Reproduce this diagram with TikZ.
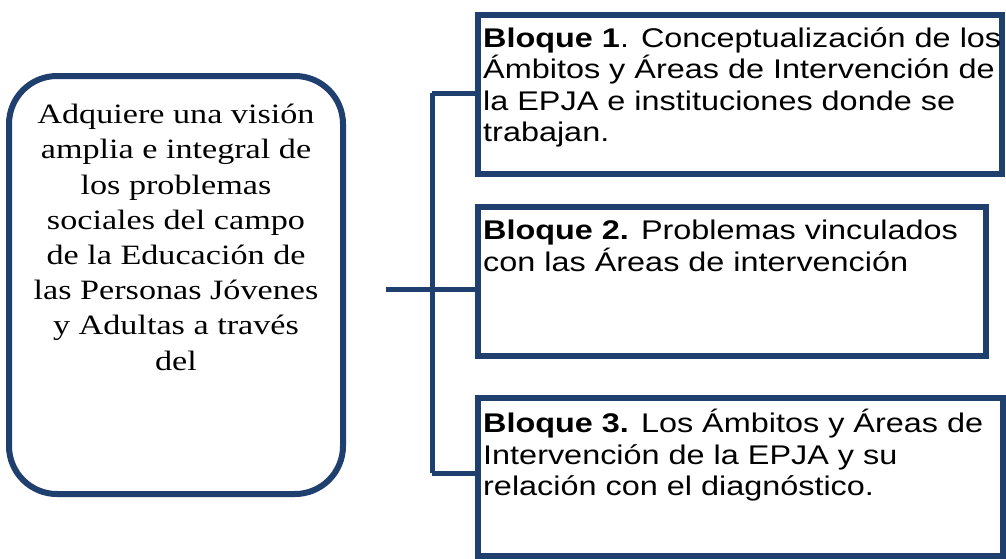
\documentclass[tikz,border=0pt]{standalone}
\usepackage{fontspec}
\setmainfont[FakeStretch=1.2]{Liberation Sans}
\newfontfamily\serifface[FakeStretch=1.22]{Liberation Serif}
\definecolor{navy}{RGB}{31,63,111}
\begin{document}
\begin{tikzpicture}[x=1pt,y=-1pt,
  roundbox/.style={draw=navy,line width=6pt,rounded corners=48pt,fill=white},
  blockbox/.style={draw=navy,line width=6pt,fill=white},
  link/.style={draw=navy,line width=5pt},
  maintxt/.style={align=center,font=\serifface\fontsize{28}{35.2}\selectfont,inner sep=0pt,anchor=north},
  blocktxt/.style={align=left,font=\fontsize{27}{31.5}\selectfont,inner sep=0pt,anchor=north west}]
\useasboundingbox (0,0) rectangle (1006,558);
\fill[white] (0,0) rectangle (1006,558);
% left box
\draw[roundbox] (9,76) rectangle (343,494);
\node[maintxt] (main) at (176,104) {Adquiere una visión\\amplia e integral de\\los problemas\\sociales del campo\\de la Educación de\\las Personas Jóvenes\\y Adultas a través\\del};
% right boxes
\draw[blockbox] (478,15) rectangle (1002,174);
\draw[blockbox] (478,207) rectangle (986,356);
\draw[blockbox] (478,398) rectangle (1003,556);
\node[blocktxt] (b1) at (483,27) {\textbf{Bloque 1}. Conceptualización de los\\Ámbitos y Áreas de Intervención de\\la EPJA e instituciones donde se\\trabajan.};
\node[blocktxt] (b2) at (483,220) {\textbf{Bloque 2.} Problemas vinculados\\con las Áreas de intervención};
\node[blocktxt] (b3) at (483,409) {\textbf{Bloque 3.} Los Ámbitos y Áreas de\\Intervención de la EPJA y su\\relación con el diagnóstico.};
% connectors
\coordinate (c0) at (386,289);
\coordinate (j1) at (432,93);
\coordinate (j2) at (432,289);
\coordinate (j3) at (432,473);
\coordinate (e1) at (478,93);
\coordinate (e2) at (478,289);
\coordinate (e3) at (478,473);
\draw[link] (c0) -- (j2);
\draw[link] (j1) -- (j3);
\draw[link] (j1) -- (e1);
\draw[link] (j2) -- (e2);
\draw[link] (j3) -- (e3);
\end{tikzpicture}
\end{document}
